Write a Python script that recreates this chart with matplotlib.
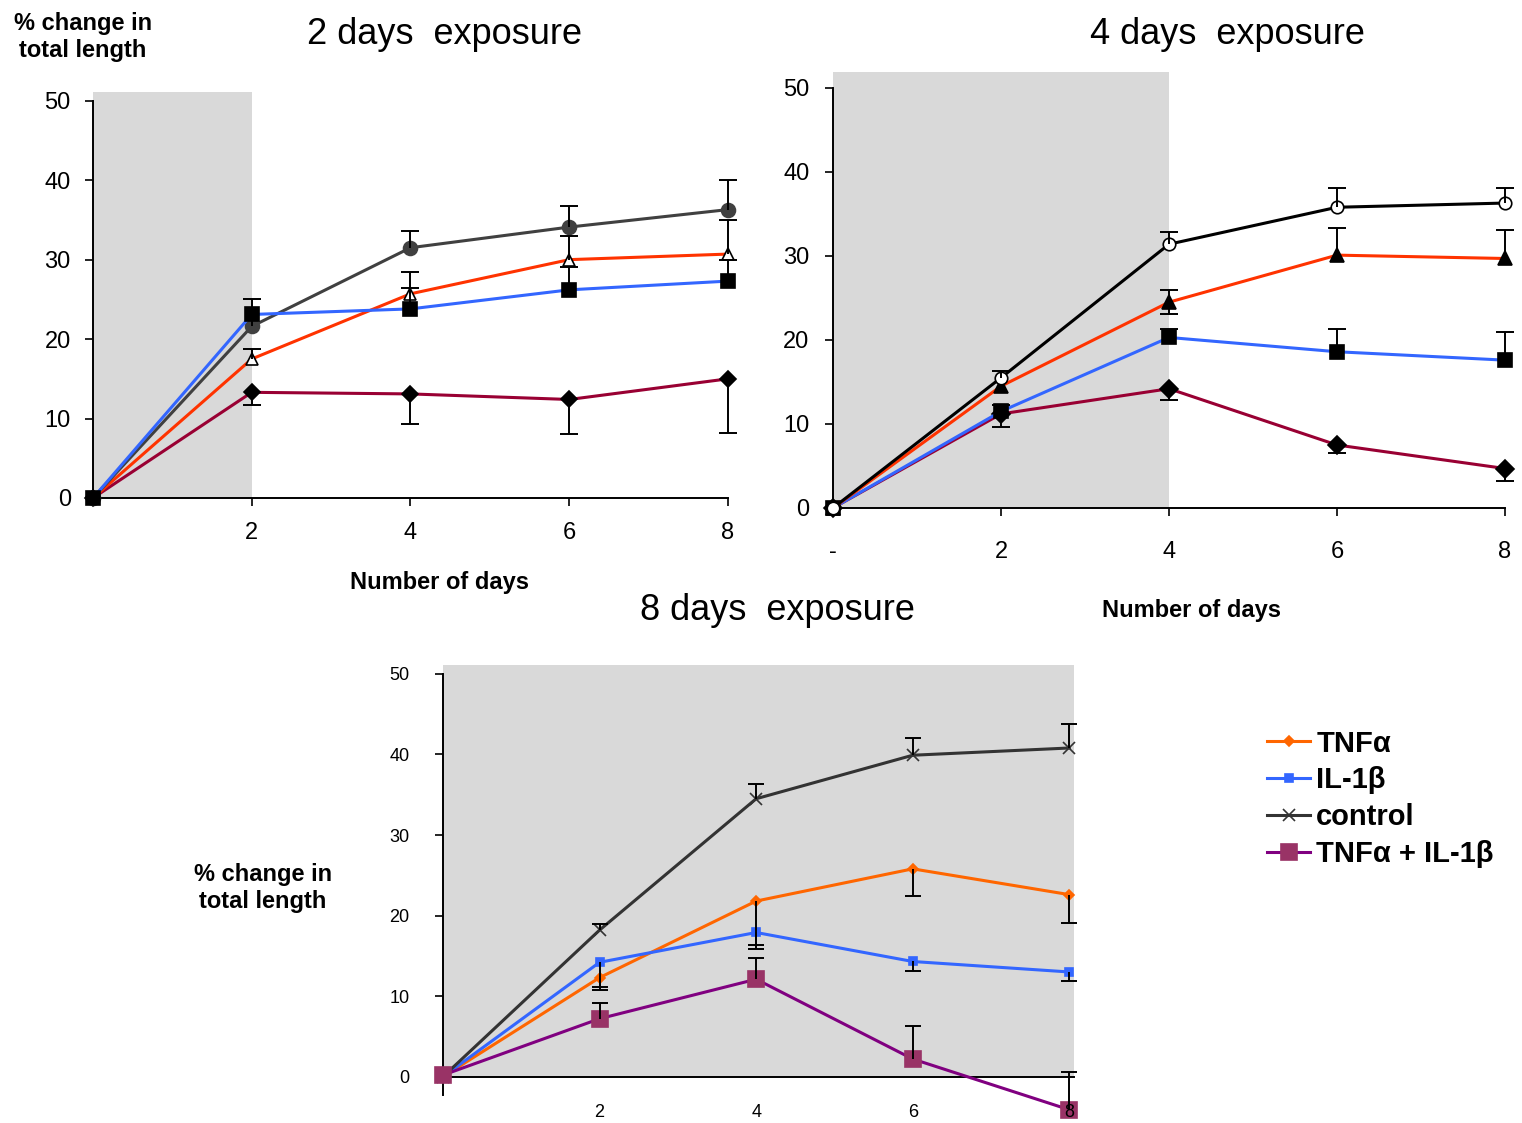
import matplotlib
matplotlib.use('Agg')
import matplotlib.pyplot as plt

plt.rcParams['font.family'] = ['Liberation Sans', 'DejaVu Sans']
NARROW = ['Liberation Sans Narrow', 'Liberation Sans', 'DejaVu Sans']

days = [0, 2, 4, 6, 8]
labels = ['TNFα', 'IL-1β', 'control', 'TNFα + IL-1β']

# --- 2 days exposure ---
d2_control = [0, 21.6, 31.5, 34.1, 36.3]
d2_control_hi = [0, 3.5, 2.1, 2.7, 3.7]
d2_tnf = [0, 17.5, 25.7, 30.0, 30.7]
d2_tnf_hi = [0, 1.3, 2.7, 3.0, 4.3]
d2_il1 = [0, 23.1, 23.8, 26.2, 27.3]
d2_il1_hi = [0, 0, 2.6, 2.9, 2.7]
d2_combo = [0, 13.3, 13.1, 12.4, 15.0]
d2_combo_lo = [0, 1.6, 3.8, 4.4, 6.8]

# --- 4 days exposure ---
d4_control = [0, 15.5, 31.4, 35.8, 36.3]
d4_control_hi = [0, 0.8, 1.5, 2.3, 1.8]
d4_tnf = [0, 14.5, 24.5, 30.1, 29.7]
d4_tnf_hi = [0, 0, 1.4, 3.2, 3.4]
d4_tnf_lo = [0, 0, 1.4, 0, 0]
d4_il1 = [0, 11.5, 20.3, 18.6, 17.6]
d4_il1_hi = [0, 0.8, 1.0, 2.7, 3.3]
d4_combo = [0, 11.2, 14.2, 7.5, 4.7]
d4_combo_lo = [0, 1.5, 1.4, 0.9, 1.5]

# --- 8 days exposure ---
d8_control = [0, 18.2, 34.5, 39.9, 40.8]
d8_control_hi = [0, 0.8, 1.8, 2.1, 3.0]
d8_tnf = [0, 12.3, 21.8, 25.8, 22.6]
d8_tnf_lo = [0, 1.5, 5.5, 3.4, 3.5]
d8_il1 = [0, 14.2, 17.9, 14.3, 13.0]
d8_il1_lo = [0, 3.1, 2.0, 1.2, 1.1]
d8_combo = [0.2, 7.2, 12.1, 2.2, -4.1]
d8_combo_hi = [0, 1.9, 2.6, 4.1, 4.7]

GRAY = '#d9d9d9'


def err(ax, y, hi=None, lo=None, cap=13):
    for arr, sign in ((hi, 1), (lo, -1)):
        if arr is None:
            continue
        for x, v, e in zip(days, y, arr):
            if e == 0:
                continue
            end = v + sign * e
            ax.vlines(x, v, end, color='black', lw=1.4, zorder=4, clip_on=False)
            ax.plot(x, end, marker='_', ms=cap, mew=1.4, color='black',
                    zorder=4, clip_on=False)


def line(ax, y, color, marker, ms, mfc, mec, lw=2.2, z=3, label=None):
    ax.plot(days, y, color=color, lw=lw, marker=marker, ms=ms, mfc=mfc,
            mec=mec, mew=1.2, zorder=z, clip_on=False, label=label)


def style(ax, tick_fs, ypad, xpad):
    for s in ('top', 'right'):
        ax.spines[s].set_visible(False)
    ax.spines['left'].set_linewidth(1.4)
    ax.spines['bottom'].set_linewidth(1.4)
    ax.set_yticks([0, 10, 20, 30, 40, 50])
    ax.tick_params(axis='y', direction='out', length=6, width=1.2,
                   labelsize=tick_fs, pad=ypad)
    ax.tick_params(axis='x', direction='out', length=6, width=1.2,
                   labelsize=tick_fs, pad=xpad)


fig = plt.figure(figsize=(15.22, 11.23), dpi=100)

# ---------- panel 1 ----------
ax1 = fig.add_axes([93 / 1522, 1 - 498 / 1123, 635 / 1522, 406 / 1123])
ax1.set_xlim(0, 8)
ax1.set_ylim(0, 51.1)
ax1.axvspan(0, 2, color=GRAY, zorder=0, lw=0)
style(ax1, 17, 10, 11)
ax1.spines['left'].set_bounds(0, 50)
ax1.set_xticks([0, 2, 4, 6, 8])
ax1.set_xticklabels(['', '2', '4', '6', '8'])
err(ax1, d2_control, hi=d2_control_hi)
err(ax1, d2_tnf, hi=d2_tnf_hi)
err(ax1, d2_il1, hi=d2_il1_hi)
err(ax1, d2_combo, lo=d2_combo_lo)
line(ax1, d2_combo, '#990033', 'D', 8, 'black', 'black')
line(ax1, d2_tnf, '#ff3300', '^', 9, 'white', 'black')
line(ax1, d2_control, '#404040', 'o', 10, '#404040', '#404040')
line(ax1, d2_il1, '#3366ff', 's', 10, 'black', 'black')

# ---------- panel 2 ----------
ax2 = fig.add_axes([833 / 1522, 1 - 508 / 1123, 672 / 1522, 436 / 1123])
ax2.set_xlim(0, 8)
ax2.set_ylim(0, 51.9)
ax2.axvspan(0, 4, color=GRAY, zorder=0, lw=0)
style(ax2, 17, 11, 18)
ax2.spines['left'].set_bounds(0, 50)
ax2.set_xticks([0, 2, 4, 6, 8])
ax2.set_xticklabels(['-', '2', '4', '6', '8'])
err(ax2, d4_control, hi=d4_control_hi)
err(ax2, d4_tnf, hi=d4_tnf_hi, lo=d4_tnf_lo)
err(ax2, d4_il1, hi=d4_il1_hi)
err(ax2, d4_combo, lo=d4_combo_lo)
line(ax2, d4_combo, '#990033', 'D', 9, 'black', 'black')
line(ax2, d4_il1, '#3366ff', 's', 10, 'black', 'black')
line(ax2, d4_tnf, '#ff3300', '^', 10, 'black', 'black')
line(ax2, d4_control, 'black', 'o', 9, 'white', 'black')

# ---------- panel 3 ----------
ax3 = fig.add_axes([443 / 1522, 1 - 1117 / 1123, 631 / 1522, 452 / 1123])
ax3.set_xlim(0, 8.06)
ax3.set_ylim(-5, 51.1)
ax3.axvspan(0, 8.06, ymin=5 / 56.1, ymax=1, color=GRAY, zorder=0, lw=0)
style(ax3, 13, 18, 20)
ax3.spines['left'].set_bounds(-2.3, 50)
ax3.spines['bottom'].set_position(('data', 0))
ax3.spines['bottom'].set_bounds(0, 8.06)
ax3.set_xticks([2, 4, 6, 8])
ax3.tick_params(axis='x', length=0)
ax3.xaxis.set_zorder(6)
err(ax3, d8_control, hi=d8_control_hi, cap=11)
err(ax3, d8_tnf, lo=d8_tnf_lo, cap=11)
err(ax3, d8_il1, lo=d8_il1_lo, cap=11)
err(ax3, d8_combo, hi=d8_combo_hi, cap=11)
line(ax3, d8_tnf, '#ff6600', 'D', 5, '#ff6600', '#ff6600', label=labels[0])
line(ax3, d8_il1, '#3366ff', 's', 6, '#3366ff', '#3366ff', label=labels[1])
line(ax3, d8_control, '#333333', 'x', 8, '#333333', '#333333', label=labels[2])
line(ax3, d8_combo, '#800080', 's', 11, '#993366', '#993366', label=labels[3])

# ---------- texts ----------
fig.text(444 / 1522, 1 - 35 / 1123, '2 days  exposure', ha='center', va='center', fontsize=26)
fig.text(1227 / 1522, 1 - 35 / 1123, '4 days  exposure', ha='center', va='center', fontsize=26)
fig.text(777 / 1522, 1 - 610 / 1123, '8 days  exposure', ha='center', va='center', fontsize=26)

fig.text(83 / 1522, 1 - 37 / 1123, '% change in\ntotal length', ha='center', va='center',
         fontsize=17, fontweight='bold', family=NARROW, linespacing=1.2)
fig.text(263 / 1522, 1 - 888 / 1123, '% change in\ntotal length', ha='center', va='center',
         fontsize=17, fontweight='bold', family=NARROW, linespacing=1.25)
fig.text(440 / 1522, 1 - 582 / 1123, 'Number of days', ha='center', va='center',
         fontsize=17, fontweight='bold', family=NARROW)
fig.text(1192 / 1522, 1 - 610 / 1123, 'Number of days', ha='center', va='center',
         fontsize=17, fontweight='bold', family=NARROW)

h, l = ax3.get_legend_handles_labels()
fig.legend(h, l, loc='upper left', bbox_to_anchor=(1255 / 1522, 1 - 718 / 1123),
           frameon=False, prop={'size': 21, 'weight': 'bold'}, handlelength=1.5,
           handletextpad=0.2, labelspacing=0.3, borderaxespad=0)

fig.savefig('out.png', dpi=100)
